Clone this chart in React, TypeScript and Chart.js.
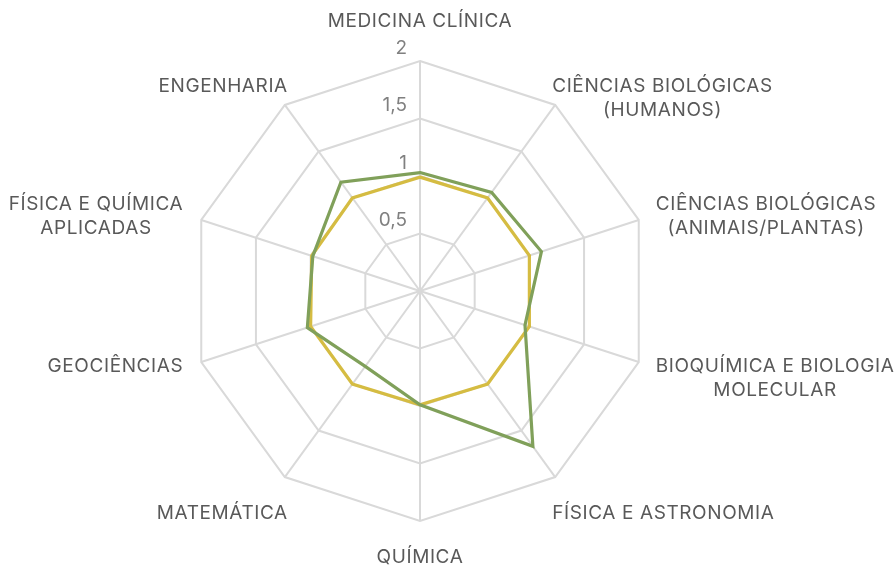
import React, { useEffect, useRef } from "react";
import { Chart, registerables } from "chart.js";

Chart.register(...registerables);

const categories: string[][] = [
  ["MEDICINA CLÍNICA"],
  ["CIÊNCIAS BIOLÓGICAS", "(HUMANOS)"],
  ["CIÊNCIAS BIOLÓGICAS", "(ANIMAIS/PLANTAS)"],
  ["BIOQUÍMICA E BIOLOGIA", "MOLECULAR"],
  ["FÍSICA E ASTRONOMIA"],
  ["QUÍMICA"],
  ["MATEMÁTICA"],
  ["GEOCIÊNCIAS"],
  ["FÍSICA E QUÍMICA", "APLICADAS"],
  ["ENGENHARIA"],
];

const seriesGreen = [1.03, 1.06, 1.11, 0.96, 1.67, 0.99, 0.81, 1.03, 0.98, 1.17];
const seriesYellow = [0.99, 1.0, 1.0, 1.0, 1.0, 0.99, 1.0, 1.0, 0.99, 1.0];

const tickValues = [0.5, 1, 1.5, 2];
const tickLabels = ["0,5", "1", "1,5", "2"];

const FONT = "Inter";

const labelPlugin = {
  id: "customLabels",
  afterDraw(chart: any) {
    const scale = chart.scales.r;
    const ctx = chart.ctx as any;
    ctx.save();
    ctx.font = `19px ${FONT}`;
    ctx.letterSpacing = "0.6px";
    ctx.fillStyle = "#595959";
    ctx.textBaseline = "middle";
    ctx.textAlign = "center";
    const r = scale.drawingArea;
    categories.forEach((lines, i) => {
      const v = scale.getPointPosition(i, r);
      const a = scale.getIndexAngle(i);
      const s = Math.sin(a);
      const c = Math.cos(a);
      const w = Math.max(...lines.map((l) => ctx.measureText(l).width));
      let cx: number;
      if (Math.abs(s) < 0.05) cx = v.x;
      else if (Math.abs(s) < 0.7) cx = s > 0 ? v.x - 3 + w / 2 : v.x + 3 - w / 2;
      else cx = s > 0 ? v.x + 17 + w / 2 : v.x - 18 - w / 2;
      let y0: number;
      if (c > 0.95) y0 = v.y - 40;
      else if (c > 0.5) y0 = v.y - 19;
      else if (c > 0) y0 = v.y - 16;
      else if (c > -0.5) y0 = v.y + 4;
      else y0 = v.y + 36;
      lines.forEach((l, k) => ctx.fillText(l, cx, y0 + k * 24));
    });
    ctx.letterSpacing = "0px";
    ctx.font = `19px ${FONT}`;
    ctx.fillStyle = "#808080";
    ctx.textAlign = "right";
    tickValues.forEach((t, k) => {
      const d = scale.getDistanceFromCenterForValue(t);
      ctx.fillText(tickLabels[k], scale.xCenter - 13, scale.yCenter - d - 13);
    });
    ctx.restore();
  },
};

export default function App() {
  const ref = useRef<HTMLCanvasElement>(null);
  useEffect(() => {
    if (!ref.current) return;
    const chart = new Chart(ref.current, {
      type: "radar",
      data: {
        labels: categories,
        datasets: [
          {
            label: "Série 1",
            data: seriesGreen,
            borderColor: "#80A05A",
            backgroundColor: "transparent",
            borderWidth: 3.2,
            pointRadius: 0,
            fill: false,
            tension: 0,
          },
          {
            label: "Série 2",
            data: seriesYellow,
            borderColor: "#D5BC42",
            backgroundColor: "transparent",
            borderWidth: 3.2,
            pointRadius: 0,
            fill: false,
            tension: 0,
          },
        ],
      },
      options: {
        animation: false,
        responsive: true,
        maintainAspectRatio: false,
        layout: { padding: { top: 61, bottom: 46, left: 190, right: 245 } },
        plugins: { legend: { display: false }, tooltip: { enabled: false } },
        scales: {
          r: {
            min: 0,
            max: 2,
            ticks: { stepSize: 0.5, display: false },
            pointLabels: { display: false },
            grid: { color: "#d9d9d9", lineWidth: 2 },
            angleLines: { color: "#d9d9d9", lineWidth: 2 },
          },
        },
      },
      plugins: [labelPlugin],
    });
    return () => chart.destroy();
  }, []);
  return (
    <div style={{ position: "absolute", left: 0, top: 0, width: 895, height: 567 }}>
      <canvas ref={ref} />
    </div>
  );
}
